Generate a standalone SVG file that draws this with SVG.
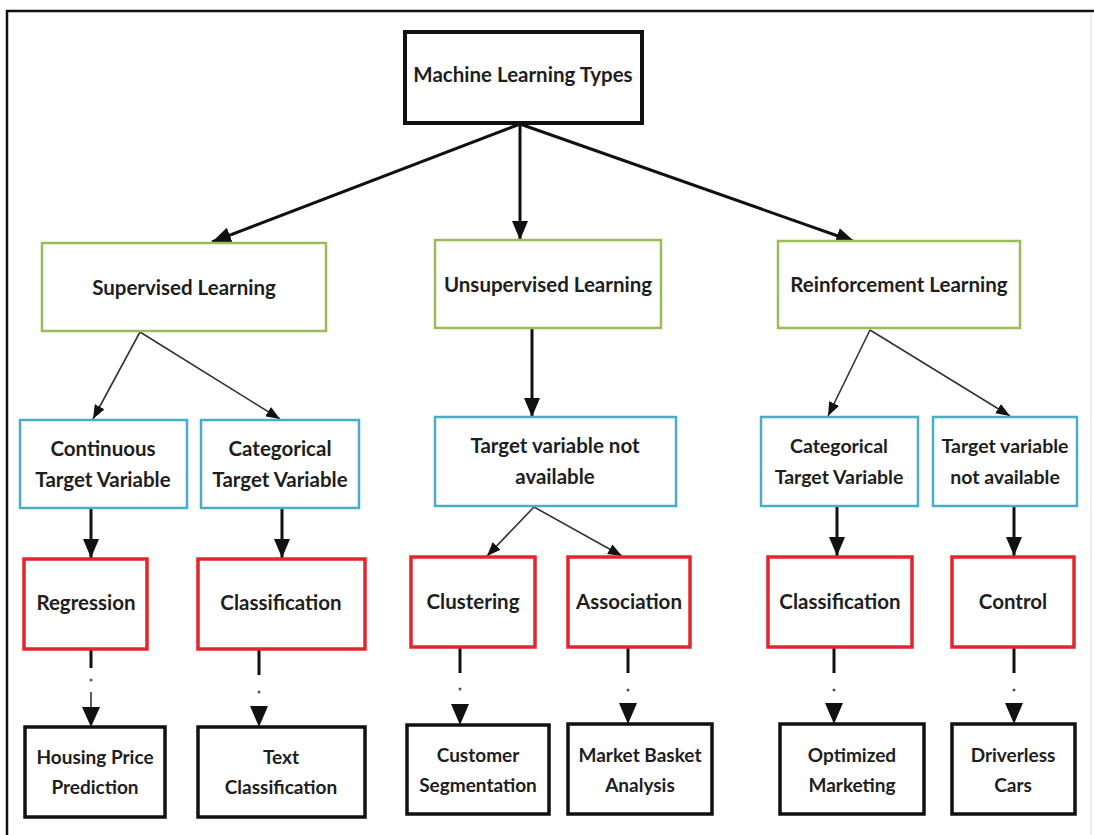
<svg xmlns="http://www.w3.org/2000/svg" width="1094" height="835" viewBox="0 0 1094 835">
  <style>
    text { font-family: Lato, "Liberation Sans", sans-serif; font-weight: bold; font-size: 20.5px; fill: #1e1e1e; text-anchor: middle; }
    .small { font-size: 19.5px; }
    .leaftext { font-size: 19px; }
    .root { fill: #fff; stroke: #111; stroke-width: 4; }
    .green { fill: #fff; stroke: #9bbb59; stroke-width: 2.5; }
    .blue { fill: #fff; stroke: #4bacc6; stroke-width: 2.5; }
    .red { fill: #fff; stroke: #e2262b; stroke-width: 3.5; }
    .leaf { fill: #fff; stroke: #111; stroke-width: 3.5; }
    .thick { stroke: #111; stroke-width: 3; fill: none; }
    .thin { stroke: #333; stroke-width: 1.6; fill: none; }
    .dot { fill: #555; }
    .drop { fill: #111; }
  </style>
  <defs>
    <marker id="headBig" markerUnits="userSpaceOnUse" viewBox="0 0 19 16" refX="19" refY="8" markerWidth="19" markerHeight="16" orient="auto">
      <path d="M0,0 L19,8 L0,16 z" fill="#111"/>
    </marker>
    <marker id="headThin" markerUnits="userSpaceOnUse" viewBox="0 0 14 11" refX="14" refY="5.5" markerWidth="14" markerHeight="11" orient="auto">
      <path d="M0,0 L14,5.5 L0,11 z" fill="#111"/>
    </marker>
  </defs>

  <!-- page frame -->
  <g id="frame">
    <line x1="6" y1="11" x2="1094" y2="11" stroke="#111" stroke-width="2.5"/>
    <line x1="7" y1="10" x2="7" y2="835" stroke="#111" stroke-width="2.5"/>
    <line x1="1091" y1="12" x2="1091" y2="835" stroke="#d8d8d8" stroke-width="1"/>
  </g>

  <g id="connectors">
    <!-- root to learning types -->
    <line class="thick" x1="520" y1="124" x2="212" y2="242" marker-end="url(#headBig)"/>
    <line class="thick" x1="520" y1="124" x2="520" y2="240" marker-end="url(#headBig)"/>
    <line class="thick" x1="520" y1="124" x2="855" y2="242" marker-end="url(#headBig)"/>
    <!-- learning types to target variable boxes -->
    <line class="thin" x1="140" y1="332" x2="93" y2="419" marker-end="url(#headThin)"/>
    <line class="thin" x1="140" y1="332" x2="280" y2="419" marker-end="url(#headThin)"/>
    <line class="thick" x1="532" y1="328" x2="532" y2="417" marker-end="url(#headBig)"/>
    <line class="thin" x1="870" y1="330" x2="828" y2="416" marker-end="url(#headThin)"/>
    <line class="thin" x1="870" y1="330" x2="1010" y2="416" marker-end="url(#headThin)"/>
    <!-- target variable boxes to tasks -->
    <line class="thick" x1="91" y1="508" x2="91" y2="558" marker-end="url(#headBig)"/>
    <line class="thick" x1="282" y1="508" x2="282" y2="558" marker-end="url(#headBig)"/>
    <line class="thin" x1="534" y1="507" x2="487" y2="556" marker-end="url(#headThin)"/>
    <line class="thin" x1="534" y1="507" x2="622" y2="556" marker-end="url(#headThin)"/>
    <line class="thick" x1="837" y1="506" x2="837" y2="556" marker-end="url(#headBig)"/>
    <line class="thick" x1="1014" y1="506" x2="1014" y2="556" marker-end="url(#headBig)"/>
    <!-- tasks to applications: dash, dot, then a heavy drop arrow -->
    <line class="thick" x1="91" y1="649" x2="91" y2="668"/>
    <circle class="dot" cx="91" cy="680" r="1.5"/>
    <line class="thin" x1="91" y1="692" x2="91" y2="710"/>
    <path class="drop" d="M82,707 L100,707 L91,727 z"/>
    <line class="thick" x1="259" y1="649" x2="259" y2="675"/>
    <circle class="dot" cx="259" cy="692" r="1.5"/>
    <path class="drop" d="M250,706 L268,706 L259,727 z"/>
    <line class="thick" x1="460" y1="647" x2="460" y2="673"/>
    <circle class="dot" cx="460" cy="689" r="1.5"/>
    <path class="drop" d="M451,704 L469,704 L460,725 z"/>
    <line class="thick" x1="628" y1="647" x2="628" y2="673"/>
    <circle class="dot" cx="628" cy="690" r="1.5"/>
    <path class="drop" d="M619,703 L637,703 L628,724 z"/>
    <line class="thick" x1="834" y1="647" x2="834" y2="673"/>
    <circle class="dot" cx="834" cy="690" r="1.5"/>
    <path class="drop" d="M825,703 L843,703 L834,724 z"/>
    <line class="thick" x1="1014" y1="647" x2="1014" y2="673"/>
    <circle class="dot" cx="1014" cy="690" r="1.5"/>
    <path class="drop" d="M1005,703 L1023,703 L1014,724 z"/>
  </g>

  <g id="ml-types">
    <rect class="root" x="405" y="32" width="237" height="91"/>
    <text x="523" y="82">Machine Learning Types</text>
  </g>

  <g id="supervised">
    <rect class="green" x="42" y="243" width="284" height="88"/>
    <text x="184" y="295">Supervised Learning</text>
  </g>
  <g id="unsupervised">
    <rect class="green" x="435" y="240" width="226" height="88"/>
    <text x="548" y="292">Unsupervised Learning</text>
  </g>
  <g id="reinforcement">
    <rect class="green" x="778" y="241" width="242" height="87"/>
    <text x="899" y="292">Reinforcement Learning</text>
  </g>

  <g id="sup-continuous">
    <rect class="blue" x="20" y="420" width="167" height="88"/>
    <text x="103" y="456">Continuous</text>
    <text x="103" y="487">Target Variable</text>
  </g>
  <g id="sup-categorical">
    <rect class="blue" x="201" y="420" width="158" height="88"/>
    <text x="280" y="456">Categorical</text>
    <text x="280" y="487">Target Variable</text>
  </g>
  <g id="unsup-target">
    <rect class="blue" x="435" y="417" width="241" height="89"/>
    <text x="555" y="453">Target variable not</text>
    <text x="555" y="484">available</text>
  </g>
  <g id="rl-categorical">
    <rect class="blue" x="761" y="417" width="157" height="89"/>
    <text class="small" x="839" y="453">Categorical</text>
    <text class="small" x="839" y="484">Target Variable</text>
  </g>
  <g id="rl-target">
    <rect class="blue" x="933" y="417" width="144" height="89"/>
    <text class="small" x="1005" y="453">Target variable</text>
    <text class="small" x="1005" y="484">not available</text>
  </g>

  <g id="regression">
    <rect class="red" x="24" y="559" width="123" height="90"/>
    <text x="86" y="610">Regression</text>
  </g>
  <g id="classification-sup">
    <rect class="red" x="198" y="559" width="167" height="90"/>
    <text x="281" y="610">Classification</text>
  </g>
  <g id="clustering">
    <rect class="red" x="411" y="557" width="124" height="90"/>
    <text x="473" y="609">Clustering</text>
  </g>
  <g id="association">
    <rect class="red" x="568" y="557" width="122" height="90"/>
    <text x="629" y="609">Association</text>
  </g>
  <g id="classification-rl">
    <rect class="red" x="768" y="557" width="144" height="90"/>
    <text x="840" y="609">Classification</text>
  </g>
  <g id="control">
    <rect class="red" x="952" y="557" width="122" height="90"/>
    <text x="1013" y="609">Control</text>
  </g>

  <g id="housing">
    <rect class="leaf" x="25" y="727" width="140" height="90"/>
    <text class="leaftext" x="95" y="764">Housing Price</text>
    <text class="leaftext" x="95" y="794">Prediction</text>
  </g>
  <g id="text-classification">
    <rect class="leaf" x="198" y="727" width="167" height="90"/>
    <text class="leaftext" x="281" y="764">Text</text>
    <text class="leaftext" x="281" y="794">Classification</text>
  </g>
  <g id="customer-segmentation">
    <rect class="leaf" x="407" y="725" width="142" height="89"/>
    <text class="leaftext" x="478" y="762">Customer</text>
    <text class="leaftext" x="478" y="792">Segmentation</text>
  </g>
  <g id="market-basket">
    <rect class="leaf" x="568" y="724" width="144" height="90"/>
    <text class="leaftext" x="640" y="762">Market Basket</text>
    <text class="leaftext" x="640" y="792">Analysis</text>
  </g>
  <g id="optimized-marketing">
    <rect class="leaf" x="780" y="724" width="144" height="90"/>
    <text class="leaftext" x="852" y="762">Optimized</text>
    <text class="leaftext" x="852" y="792">Marketing</text>
  </g>
  <g id="driverless-cars">
    <rect class="leaf" x="952" y="724" width="123" height="90"/>
    <text class="leaftext" x="1013" y="762">Driverless</text>
    <text class="leaftext" x="1013" y="792">Cars</text>
  </g>
</svg>
